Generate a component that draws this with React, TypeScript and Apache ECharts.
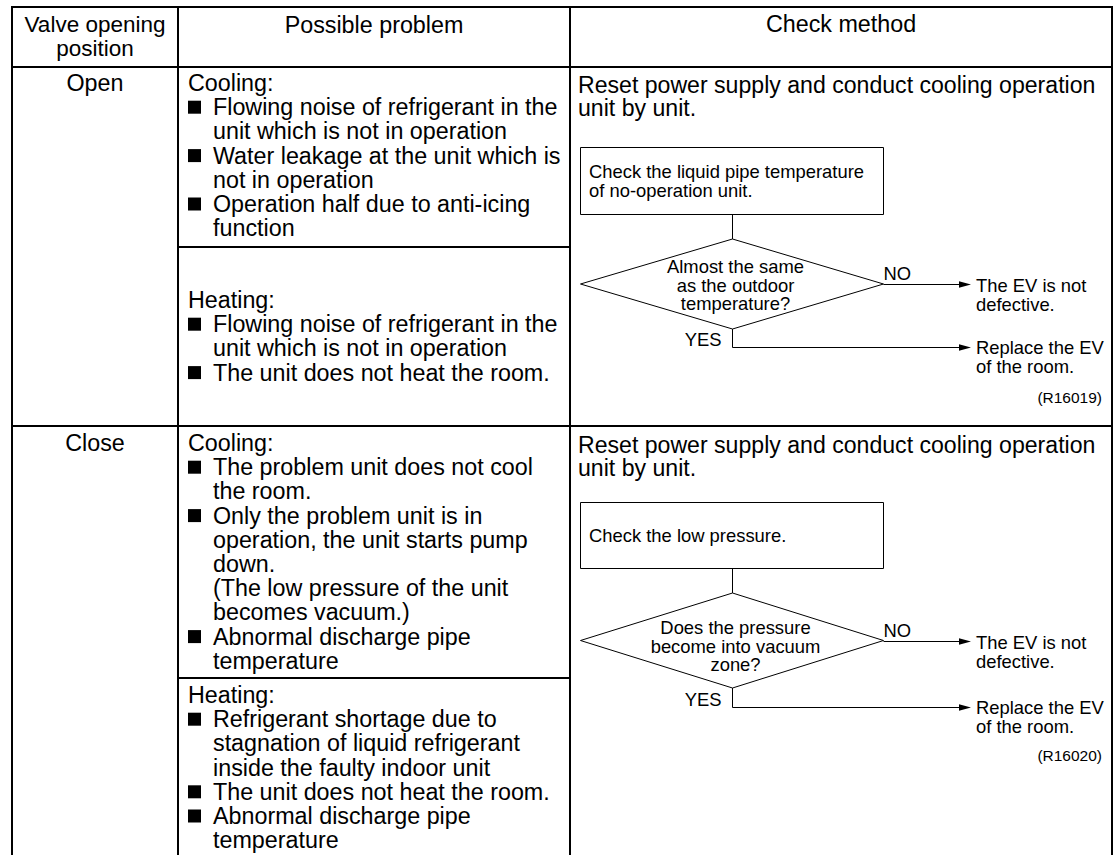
import React, { useEffect, useRef } from "react";
import * as echarts from "echarts";

// ---------- content ----------
const headerCol1 = ["Valve opening", "position"];
const headerCol2 = "Possible problem";
const headerCol3 = "Check method";
const positions = ["Open", "Close"];

const openCoolingTitle = "Cooling:";
const openCoolingItems = [
  ["Flowing noise of refrigerant in the", "unit which is not in operation"],
  ["Water leakage at the unit which is", "not in operation"],
  ["Operation half due to anti-icing", "function"],
];
const openHeatingTitle = "Heating:";
const openHeatingItems = [
  ["Flowing noise of refrigerant in the", "unit which is not in operation"],
  ["The unit does not heat the room."],
];
const closeCoolingTitle = "Cooling:";
const closeCoolingItems = [
  ["The problem unit does not cool", "the room."],
  [
    "Only the problem unit is in",
    "operation, the unit starts pump",
    "down.",
    "(The low pressure of the unit",
    "becomes vacuum.)",
  ],
  ["Abnormal discharge pipe", "temperature"],
];
const closeHeatingTitle = "Heating:";
const closeHeatingItems = [
  [
    "Refrigerant shortage due to",
    "stagnation of liquid refrigerant",
    "inside the faulty indoor unit",
  ],
  ["The unit does not heat the room."],
  ["Abnormal discharge pipe", "temperature"],
];

const checkIntro = ["Reset power supply and conduct cooling operation", "unit by unit."];
const openBoxText = ["Check the liquid pipe temperature", "of no-operation unit."];
const openDiamondText = ["Almost the same", "as the outdoor", "temperature?"];
const closeBoxText = ["Check the low pressure."];
const closeDiamondText = ["Does the pressure", "become into vacuum", "zone?"];
const noLabel = "NO";
const yesLabel = "YES";
const noResult = ["The EV is not", "defective."];
const yesResult = ["Replace the EV", "of the room."];
const figureCodes = ["(R16019)", "(R16020)"];

// ---------- layout ----------
const W = 1115;
const H = 855;
const FONT = "'Liberation Sans', Arial, Helvetica, sans-serif";
const MAIN_FS = 23.3;
const INTRO_FS = 23.1;
const HEAD1_FS = 22.5;
const FC_FS = 18.4;
const CODE_FS = 15.5;
const LINE = 24.2;
const FC_LINE = 18.8;

const X0 = 12;
const X1 = 178;
const X2 = 570;
const X3 = 1112;
const Y_TOP = 7;
const Y_HEAD = 67;
const Y_ROW = 426;
const Y_OPEN_SPLIT = 247;
const Y_CLOSE_SPLIT = 678;

const BOX_L = 580.5;
const BOX_R = 883.5;
const FC_CX = 732.5;
const ARROW_END = 971;
const RESULT_X = 976;
const CODE_X = 1102;

const flowLayouts = [
  { introY: 85, boxTop: 147.5, boxBottom: 214.5, dTop: 239, dBottom: 329, dTextY: 285, yesY: 347.5, codeY: 397 },
  { introY: 445, boxTop: 502.5, boxBottom: 568.5, dTop: 593, dBottom: 688, dTextY: 646, yesY: 707.5, codeY: 755 },
];

function txt(text: string, x: number, y: number, fs: number, align = "left", vAlign = "middle") {
  return {
    type: "text",
    x,
    y,
    silent: true,
    style: {
      text,
      fontSize: fs,
      fontFamily: FONT,
      fill: "#000",
      align,
      verticalAlign: vAlign,
    },
  };
}

function line(x1: number, y1: number, x2: number, y2: number, lw: number) {
  return {
    type: "line",
    silent: true,
    shape: { x1, y1, x2, y2 },
    style: { stroke: "#000", lineWidth: lw },
  };
}

function problemBlock(title: string, items: string[][], startY: number) {
  const els: any[] = [];
  els.push(txt(title, 188, startY, MAIN_FS));
  let y = startY + LINE;
  items.forEach((item) => {
    els.push({
      type: "rect",
      silent: true,
      shape: { x: 188, y: y - 6.5, width: 13, height: 13 },
      style: { fill: "#000" },
    });
    item.forEach((l) => {
      els.push(txt(l, 213, y, MAIN_FS));
      y += LINE;
    });
  });
  return els;
}

function flowchart(k: number, boxText: string[], diamondText: string[]) {
  const L = flowLayouts[k];
  const els: any[] = [];
  checkIntro.forEach((t, i) => els.push(txt(t, 578, L.introY - 0.25 + i * 23.5, INTRO_FS)));
  els.push({
    type: "rect",
    silent: true,
    shape: { x: BOX_L, y: L.boxTop, width: BOX_R - BOX_L, height: L.boxBottom - L.boxTop },
    style: { fill: "none", stroke: "#000", lineWidth: 1 },
  });
  const bc = (L.boxTop + L.boxBottom) / 2;
  boxText.forEach((t, i) =>
    els.push(txt(t, 589, bc + (i - (boxText.length - 1) / 2) * FC_LINE, FC_FS))
  );
  els.push(line(FC_CX, L.boxBottom, FC_CX, L.dTop, 1));
  const dMid = (L.dTop + L.dBottom) / 2;
  els.push({
    type: "polygon",
    silent: true,
    shape: {
      points: [
        [FC_CX, L.dTop],
        [BOX_R, dMid],
        [FC_CX, L.dBottom],
        [BOX_L, dMid],
      ],
    },
    style: { fill: "none", stroke: "#000", lineWidth: 1 },
  });
  diamondText.forEach((t, i) =>
    els.push(txt(t, FC_CX + 3, L.dTextY + (i - (diamondText.length - 1) / 2) * FC_LINE, FC_FS, "center"))
  );
  // NO branch
  const noY = Math.round(dMid) + 0.5;
  els.push(line(BOX_R, noY, ARROW_END - 10, noY, 1));
  els.push({
    type: "polygon",
    silent: true,
    shape: { points: [[ARROW_END, noY], [ARROW_END - 12, noY - 3.2], [ARROW_END - 12, noY + 3.2]] },
    style: { fill: "#000" },
  });
  els.push(txt(noLabel, BOX_R, noY - 11, FC_FS));
  noResult.forEach((t, i) => els.push(txt(t, RESULT_X, noY + 1 + i * FC_LINE, FC_FS)));
  // YES branch
  els.push({
    type: "polyline",
    silent: true,
    shape: { points: [[FC_CX, L.dBottom], [FC_CX, L.yesY], [ARROW_END - 10, L.yesY]] },
    style: { fill: "none", stroke: "#000", lineWidth: 1 },
  });
  els.push({
    type: "polygon",
    silent: true,
    shape: { points: [[ARROW_END, L.yesY], [ARROW_END - 12, L.yesY - 3.2], [ARROW_END - 12, L.yesY + 3.2]] },
    style: { fill: "#000" },
  });
  els.push(txt(yesLabel, FC_CX - 11, L.yesY - 8, FC_FS, "right"));
  yesResult.forEach((t, i) => els.push(txt(t, RESULT_X, L.yesY + i * FC_LINE, FC_FS)));
  els.push(txt(figureCodes[k], CODE_X, L.codeY, CODE_FS, "right"));
  return els;
}

function buildGraphic() {
  const els: any[] = [];
  els.push({ type: "rect", silent: true, shape: { x: 0, y: 0, width: W, height: H }, style: { fill: "#fff" } });

  // table grid
  els.push(line(X0 - 1, Y_TOP, X3 + 1, Y_TOP, 2));
  els.push(line(X0 - 1, Y_HEAD, X3 + 1, Y_HEAD, 2));
  els.push(line(X0 - 1, Y_ROW, X3 + 1, Y_ROW, 2));
  els.push(line(X1, Y_OPEN_SPLIT, X2, Y_OPEN_SPLIT, 2));
  els.push(line(X1, Y_CLOSE_SPLIT, X2, Y_CLOSE_SPLIT, 2));
  [X0, X1, X2, X3].forEach((x) => els.push(line(x, Y_TOP, x, H + 2, 2)));

  // header
  headerCol1.forEach((t, i) => els.push(txt(t, (X0 + X1) / 2, 24.5 + i * 23.5, HEAD1_FS, "center")));
  els.push(txt(headerCol2, (X1 + X2) / 2, 25, MAIN_FS, "center"));
  els.push(txt(headerCol3, (X2 + X3) / 2, 24, MAIN_FS, "center"));

  // position column
  els.push(txt(positions[0], (X0 + X1) / 2, 83, MAIN_FS, "center"));
  els.push(txt(positions[1], (X0 + X1) / 2, 443, MAIN_FS, "center"));

  // problems
  els.push(...problemBlock(openCoolingTitle, openCoolingItems, 83));
  els.push(...problemBlock(openHeatingTitle, openHeatingItems, 300));
  els.push(...problemBlock(closeCoolingTitle, closeCoolingItems, 443));
  els.push(...problemBlock(closeHeatingTitle, closeHeatingItems, 695));

  // check methods
  els.push(...flowchart(0, openBoxText, openDiamondText));
  els.push(...flowchart(1, closeBoxText, closeDiamondText));
  return els;
}

export default function App() {
  const ref = useRef<HTMLDivElement>(null);
  useEffect(() => {
    if (!ref.current) return;
    const chart = echarts.init(ref.current, undefined, { renderer: "svg" });
    chart.setOption({
      animation: false,
      backgroundColor: "#fff",
      graphic: { elements: buildGraphic() },
    });
    return () => chart.dispose();
  }, []);
  return (
    <div
      ref={ref}
      style={{ position: "fixed", left: 0, top: 0, width: W, height: H, background: "#fff" }}
    />
  );
}
